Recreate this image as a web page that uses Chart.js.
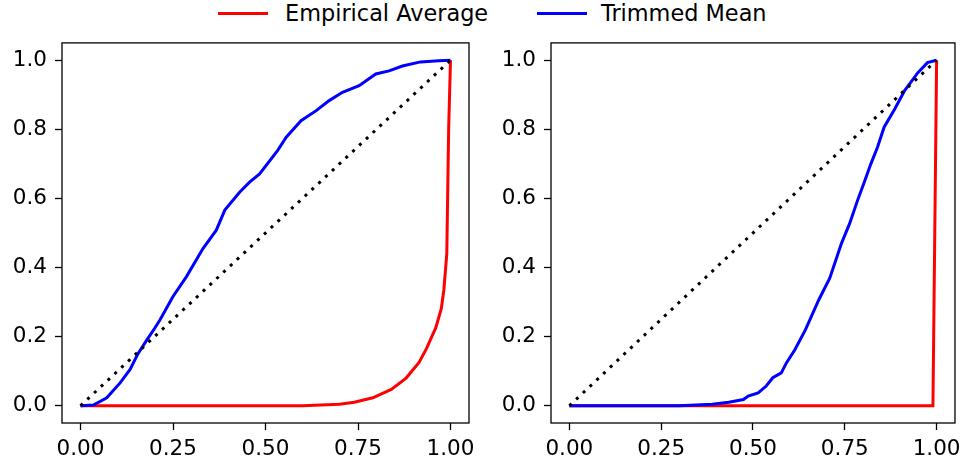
<!DOCTYPE html>
<html>
<head>
<meta charset="utf-8">
<script src="https://cdn.jsdelivr.net/npm/chart.js@4"></script>
<style>
  body { margin: 0; background: #fff; width: 968px; height: 465px; overflow: hidden; position: relative; font-family: "DejaVu Sans", sans-serif; }
  canvas { position: absolute; top: 22px; }
  #c1 { left: 0; }
  #c2 { left: 484px; }
  .leg-line { position: absolute; top: 12px; height: 3px; width: 50px; }
  .leg-text { position: absolute; top: 2px; font-size: 22.4px; line-height: 22px; color: #000; white-space: nowrap; }
</style>
</head>
<body>
<div class="leg-line" style="left:218px;background:#ff0000"></div>
<div class="leg-text" style="left:285px">Empirical Average</div>
<div class="leg-line" style="left:537px;background:#0000ff"></div>
<div class="leg-text" style="left:601px">Trimmed Mean</div>
<canvas id="c1" width="484" height="443"></canvas>
<canvas id="c2" width="484" height="443"></canvas>
<script>
// tick labels
let xTicks = [0, 0.25, 0.5, 0.75, 1.0];
let yTicks = [0, 0.2, 0.4, 0.6, 0.8, 1.0];

// reference diagonal
let diagX = [0, 1];
let diagY = [0, 1];

// left panel
let leftEmpX = [0, 0.6, 0.65, 0.7, 0.74, 0.79, 0.84, 0.88, 0.915, 0.935, 0.96, 0.975, 0.982, 0.99, 0.995, 1.0];
let leftEmpY = [0, 0, 0.002, 0.004, 0.01, 0.023, 0.047, 0.08, 0.125, 0.165, 0.225, 0.28, 0.335, 0.44, 0.8, 1.0];
let leftTrimX = [0, 0.035, 0.071, 0.107, 0.134, 0.155, 0.179, 0.201, 0.215, 0.25, 0.286, 0.331, 0.367, 0.39, 0.43, 0.457, 0.484, 0.533, 0.556, 0.596, 0.637, 0.672, 0.708, 0.753, 0.798, 0.834, 0.87, 0.919, 0.968, 1.0];
let leftTrimY = [0, 0.002, 0.023, 0.066, 0.105, 0.15, 0.19, 0.225, 0.249, 0.316, 0.373, 0.455, 0.508, 0.566, 0.618, 0.647, 0.671, 0.739, 0.777, 0.825, 0.854, 0.883, 0.907, 0.926, 0.96, 0.969, 0.983, 0.995, 0.998, 1.0];

// right panel
let rightEmpX = [0, 0.99, 1.0];
let rightEmpY = [0, 0, 1.0];
let rightTrimX = [0, 0.299, 0.389, 0.434, 0.474, 0.487, 0.514, 0.536, 0.554, 0.577, 0.591, 0.614, 0.643, 0.679, 0.709, 0.741, 0.763, 0.785, 0.803, 0.821, 0.839, 0.857, 0.886, 0.913, 0.949, 0.975, 1.0];
let rightTrimY = [0, 0, 0.004, 0.01, 0.018, 0.028, 0.037, 0.057, 0.081, 0.095, 0.124, 0.162, 0.22, 0.306, 0.369, 0.47, 0.527, 0.595, 0.647, 0.7, 0.748, 0.806, 0.859, 0.912, 0.964, 0.993, 1.0];

function pts(xs, ys) {
    return xs.map((x, i) => ({ x: x, y: ys[i] }));
}

// draws the box round the plot area (matplotlib spines)
const frame = {
    id: "frame",
    afterDraw(chart) {
        let a = chart.chartArea;
        let ctx = chart.ctx;
        ctx.save();
        ctx.strokeStyle = "#000";
        ctx.lineWidth = 1.3;
        ctx.strokeRect(a.left, a.top, a.right - a.left, a.bottom - a.top);
        ctx.restore();
    }
};

function makeChart(id, empX, empY, trimX, trimY, axisW, padRight) {
    let ctx = document.getElementById(id).getContext("2d");
    return new Chart(ctx, {
        type: "line",
        data: {
            datasets: [
                { data: pts(diagX, diagY), borderColor: "#000", borderWidth: 3, borderDash: [3, 6.3], pointRadius: 0 },
                { data: pts(trimX, trimY), borderColor: "#0000ff", borderWidth: 3, pointRadius: 0 },
                { data: pts(empX, empY), borderColor: "#ff0000", borderWidth: 3, pointRadius: 0 }
            ]
        },
        options: {
            responsive: false,
            animation: false,
            devicePixelRatio: 1,
            layout: { padding: { left: 0, right: padRight, top: 20, bottom: 0 } },
            plugins: { legend: { display: false }, tooltip: { enabled: false } },
            scales: {
                x: {
                    type: "linear", min: -0.05, max: 1.05,
                    afterBuildTicks: s => { s.ticks = xTicks.map(v => ({ value: v })); },
                    afterFit: s => { s.height = 42; },
                    border: { display: false },
                    grid: { drawOnChartArea: false, tickLength: 7, tickColor: "#000", tickWidth: 1.3 },
                    ticks: { color: "#000", padding: 7, maxRotation: 0, font: { family: "DejaVu Sans", size: 21.5 }, callback: v => v.toFixed(2) }
                },
                y: {
                    type: "linear", min: -0.05, max: 1.05,
                    afterBuildTicks: s => { s.ticks = yTicks.map(v => ({ value: v })); },
                    afterFit: s => { s.width = axisW; },
                    border: { display: false },
                    grid: { drawOnChartArea: false, tickLength: 7, tickColor: "#000", tickWidth: 1.3 },
                    ticks: { color: "#000", padding: 8, font: { family: "DejaVu Sans", size: 21.5 }, callback: v => v.toFixed(1) }
                }
            }
        },
        plugins: [frame]
    });
}

makeChart("c1", leftEmpX, leftEmpY, leftTrimX, leftTrimY, 62, 15);
makeChart("c2", rightEmpX, rightEmpY, rightTrimX, rightTrimY, 67, 10);
</script>
</body>
</html>
